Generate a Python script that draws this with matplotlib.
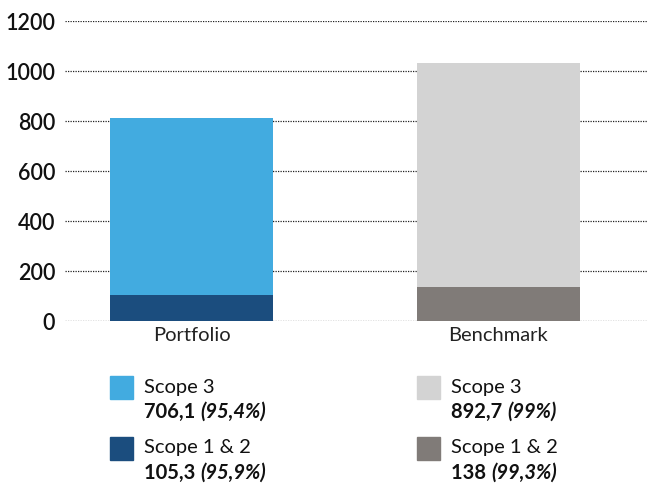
import matplotlib
matplotlib.use("Agg")
import matplotlib.pyplot as plt
import matplotlib.patches as mpatches

plt.rcParams['font.family'] = ['Lato', 'DejaVu Sans']

# data
categories = ['Portfolio', 'Benchmark']
scope12 = [105.3, 138]
scope3 = [706.1, 892.7]
pct12 = [95.9, 99.3]
pct3 = [95.4, 99]
series_names = ['Scope 3', 'Scope 1 & 2']

light_cols = ['#42ABE0', '#D3D3D3']
dark_cols = ['#1B4D7E', '#807B78']


def fmt(v):
    return f"{v:g}".replace('.', ',')


fig = plt.figure(figsize=(6.47, 4.84), dpi=100)
ax = fig.add_axes([65 / 647, 1 - 321 / 484, 582 / 647, 300 / 484])

x = list(range(len(categories)))
ax.bar(x, scope12, width=0.53, color=dark_cols, zorder=2)
ax.bar(x, scope3, bottom=scope12, width=0.53, color=light_cols, zorder=2)

ax.set_ylim(0, 1200)
ax.set_xlim(-0.412, 1.484)
ax.set_yticks(range(0, 1201, 200))
ax.set_xticks(x)
ax.set_xticklabels(categories, fontsize=14.5, color='#222222')
ax.tick_params(axis='y', length=0, pad=7, labelsize=15.5, labelcolor='#111111')
ax.tick_params(axis='x', length=0, pad=4)
ax.grid(axis='y', linestyle=(0, (1, 1)), color='#222222', linewidth=0.9, zorder=1)
ax.set_axisbelow(True)
for s in ax.spines.values():
    s.set_visible(False)
for lbl in ax.get_yticklabels():
    lbl.set_fontweight('semibold')

# custom legend under each bar
col_x = [110, 417]
row_y = [376, 437]
for i in range(len(categories)):
    entries = [(series_names[0], scope3[i], pct3[i], light_cols[i]),
               (series_names[1], scope12[i], pct12[i], dark_cols[i])]
    for j, (name, val, pct, col) in enumerate(entries):
        px, py = col_x[i], row_y[j]
        fig.patches.append(mpatches.Rectangle((px / 647, 1 - (py + 23) / 484), 23 / 647, 23 / 484,
                                              transform=fig.transFigure, color=col, figure=fig))
        fig.text((px + 34) / 647, 1 - (py + 11) / 484, name, fontsize=14.5,
                 va='center', ha='left', color='#111111')
        t = fig.text((px + 34) / 647, 1 - (py + 36) / 484, fmt(val) + ' ', fontsize=14.5,
                     fontweight='bold', va='center', ha='left', color='#111111')
        ax.annotate(f"({fmt(pct)}%)", xy=(1, 0.5), xycoords=t, va='center', ha='left',
                    fontsize=14.5, fontweight='bold', fontstyle='italic', color='#111111',
                    annotation_clip=False)

fig.savefig('out.png', dpi=100)
